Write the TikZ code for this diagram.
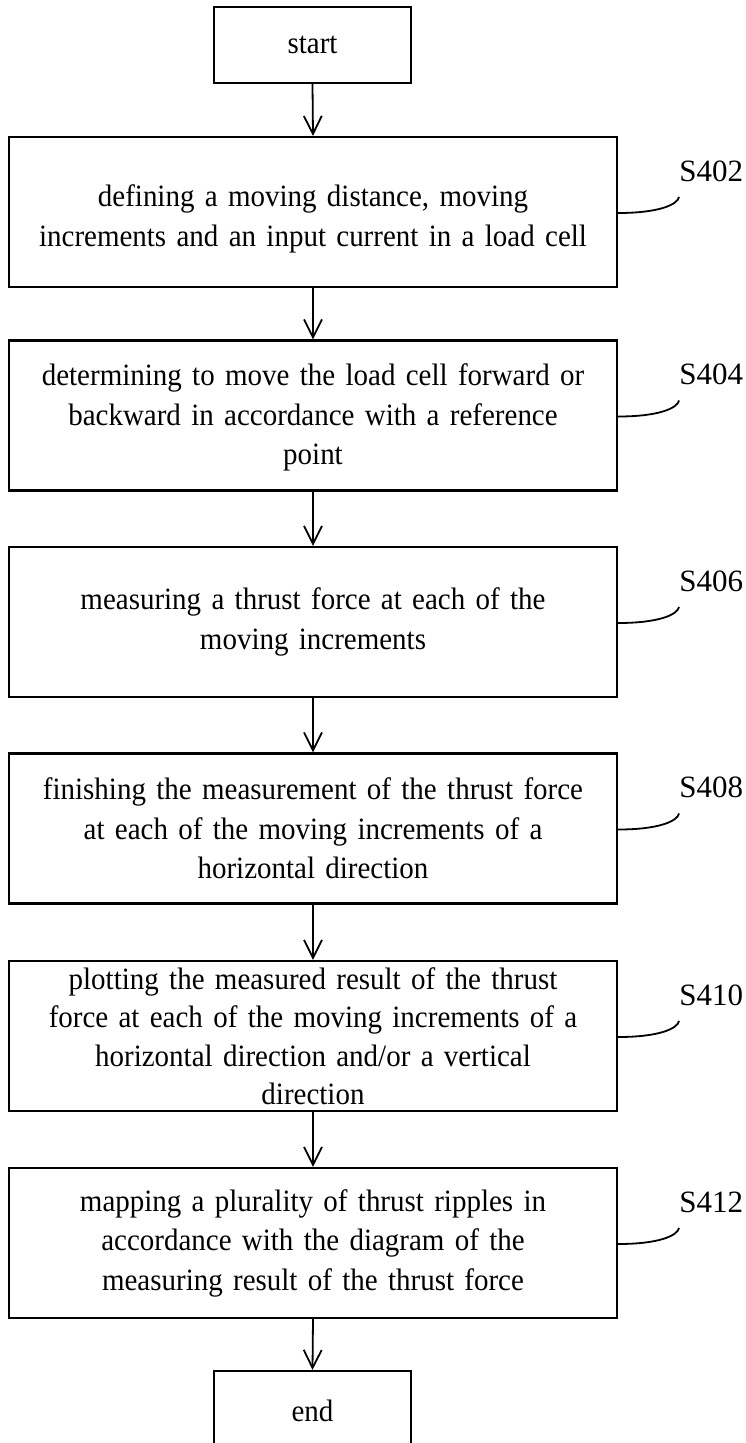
\documentclass[tikz,border=0pt]{standalone}
\usepackage{fontspec}
\setmainfont{Liberation Serif}
\newfontfamily\narrowserif[FakeStretch=0.935]{Liberation Serif}
\usetikzlibrary{arrows.meta}
\begin{document}
\begin{tikzpicture}[x=1pt,y=-1pt,
  stepbox/.style={draw,line width=2.2pt,minimum width=608pt,minimum height=150pt,
    text width=596pt,align=center,inner sep=0pt,
    font=\narrowserif\fontsize{31}{39.5}\selectfont},
  lower/.style={execute at begin node={\rule{0pt}{#1}}},
  termbox/.style={draw,line width=2.2pt,minimum width=197pt,minimum height=76pt,
    inner sep=0pt,font=\narrowserif\fontsize{31}{39.5}\selectfont},
  flow/.style={line width=1.8pt,-{Straight Barb[length=18pt,width=18pt,line width=1.8pt]}},
  lead/.style={line width=1.8pt},
  steplabel/.style={anchor=base west,inner sep=0pt,font=\fontsize{31}{35}\selectfont}]
\useasboundingbox (0,0) rectangle (745,1443);
\node[termbox] (start) at (312.5,45) {start};
\node[stepbox,lower=36pt] (s402) at (313,212) {defining a moving distance, moving\\increments and an input current in a load cell};
\node[stepbox,lower=26pt] (s404) at (313,415.5) {determining to move the load cell forward or\\backward in accordance with a reference\\point};
\node[stepbox] (s406) at (313,622) {measuring a thrust force at each of the\\moving increments};
\node[stepbox] (s408) at (313,828.5) {finishing the measurement of the thrust force\\at each of the moving increments of a\\horizontal direction};
\node[stepbox,font=\narrowserif\fontsize{31}{38.5}\selectfont] (s410) at (313,1036) {plotting the measured result of the thrust\\force at each of the moving increments of a\\horizontal direction and/or a vertical\\direction};
\node[stepbox] (s412) at (313,1243) {mapping a plurality of thrust ripples in\\accordance with the diagram of the\\measuring result of the thrust force};
\node[termbox,minimum height=80pt] (end) at (312.5,1411) {end};
\draw[flow] (start.south) -- (s402.north);
\draw[flow] (s402.south) -- (s404.north);
\draw[flow] (s404.south) -- (s406.north);
\draw[flow] (s406.south) -- (s408.north);
\draw[flow] (s408.south) -- (s410.north);
\draw[flow] (s410.south) -- (s412.north);
\draw[flow] (s412.south) -- (end.north);
\foreach \n/\t in {s402/S402,s404/S404,s406/S406,s408/S408,s410/S410,s412/S412}{
  \coordinate (\n-a) at ([yshift=-1pt]\n.east);
  \coordinate (\n-b) at ([shift={(61pt,15pt)}]\n.east);
  \draw[lead] (\n-a) .. controls ([xshift=40pt]\n-a) and ([shift={(-2pt,-8pt)}]\n-b) .. (\n-b);
  \node[steplabel] (\n-l) at ([shift={(0pt,16pt)}]\n-b) {\t};
}
\end{tikzpicture}
\end{document}
